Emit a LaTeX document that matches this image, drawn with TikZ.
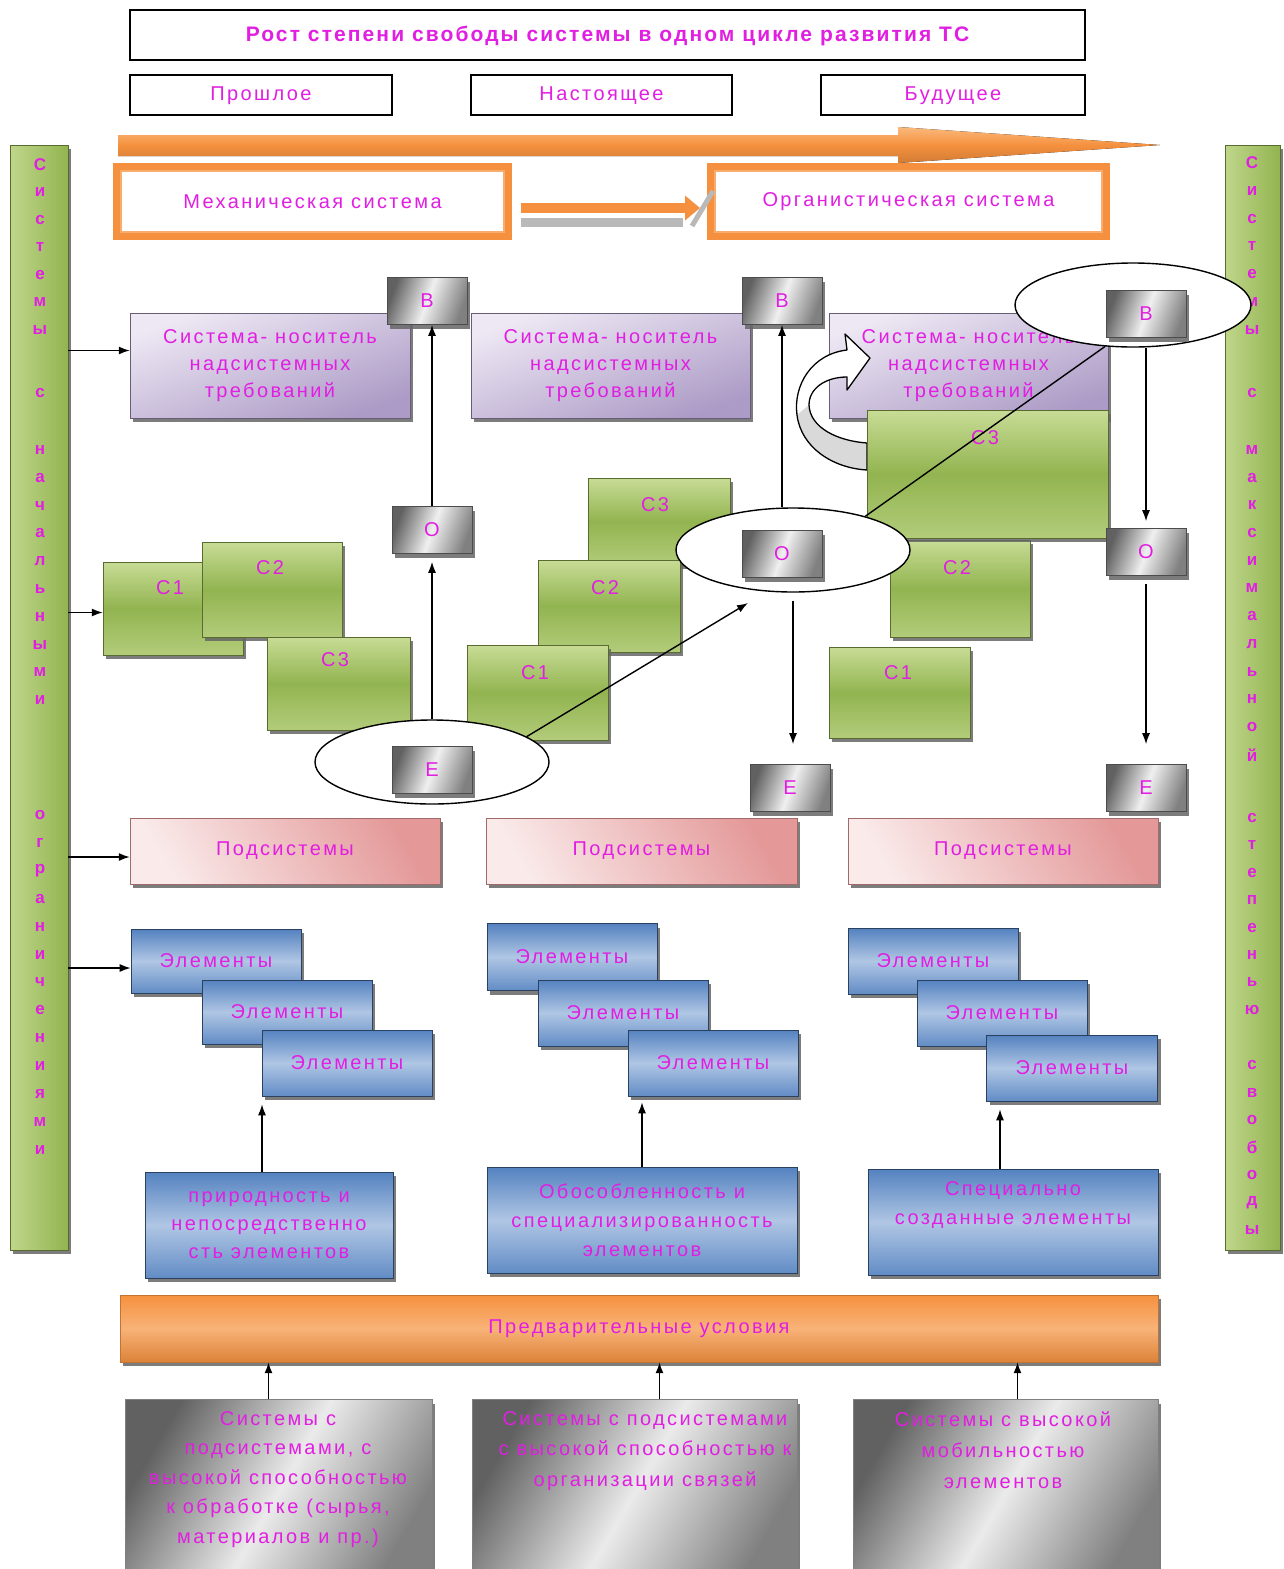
\documentclass[tikz,border=0pt]{standalone}
\usepackage{fontspec}
\setmainfont{Liberation Sans}
\newfontfamily\lsfont[LetterSpace=12]{Liberation Sans}
\newfontfamily\ttlfont[LetterSpace=10]{Liberation Sans}
\usetikzlibrary{arrows.meta,shapes.geometric,shadows}

\definecolor{mag}{RGB}{225,30,225}
\definecolor{grA}{RGB}{200,220,150}
\definecolor{grB}{RGB}{146,180,80}
\definecolor{purA}{RGB}{238,232,244}
\definecolor{purB}{RGB}{172,155,198}
\definecolor{pinkA}{RGB}{250,234,234}
\definecolor{pinkB}{RGB}{228,152,152}
\definecolor{bluA}{RGB}{176,198,228}
\definecolor{bluB}{RGB}{84,130,192}
\definecolor{orA}{RGB}{245,145,62}
\definecolor{orB}{RGB}{250,185,125}

\begin{document}
\begin{tikzpicture}[x=1pt,y=-1pt,
  txt/.style={text=mag,font=\lsfont\fontsize{20}{27}\selectfont,align=center,inner sep=0pt},
  hdr/.style={draw=black,line width=1.8pt,fill=white,txt,text depth=3pt},
  shad/.style={drop shadow={shadow xshift=3pt,shadow yshift=-4pt,fill=black!60,opacity=.85}},
  grbox/.style={shad,draw=grB!60!black,line width=.5pt,top color=grA,bottom color=grA!60!grB,middle color=grB,inner sep=0pt},
  sidebar/.style={shad,draw=grB!60!black,line width=.5pt,left color=grA!85!grB,right color=grB,inner sep=0pt},
  purbox/.style={shad,draw=purB!60!black,line width=.4pt,top color=purA,bottom color=purB,shading angle=20,txt,minimum width=280,minimum height=105},
  pinkbox/.style={shad,draw=pinkB!70!black,line width=.4pt,left color=pinkA,right color=pinkB,shading angle=120,txt,minimum height=66},
  blubox/.style={shad,draw=bluB!50!black,line width=.6pt,top color=bluB,bottom color=bluB!85!bluA,middle color=bluA,txt},
  smallbox/.style={shad,draw=black!70,line width=.6pt,left color=black!62,right color=black!50,middle color=white!94!black,shading angle=70,txt,minimum width=80,minimum height=47},
  graybox/.style={shad,draw=black!50,line width=.4pt,left color=black!62,right color=black!50,middle color=black!8,shading angle=60,inner sep=0pt},
  frameO/.style={draw=orA,line width=7pt,fill=white,txt,minimum width=392,minimum height=70},
  ell/.style={ellipse,draw=black,line width=1.4pt,fill=white,minimum width=234,minimum height=84,inner sep=0pt},
  conn/.style={draw=black,line width=1.4pt,-{Latex[length=11pt,width=8pt]}},
  plain/.style={draw=black,line width=1.4pt},
  barch/.style={text=mag,font=\fontsize{17}{17}\selectfont\bfseries,inner sep=0pt}
]
\useasboundingbox (0,0) rectangle (1283,1569);
\fill[white] (0,0) rectangle (1283,1569);

% ---- side bars with vertical lettering
\node[sidebar,minimum width=58,minimum height=1105] (lbar) at (39,697.5) {};
\node[sidebar,minimum width=55,minimum height=1105] (rbar) at (1252.5,697.5) {};
\foreach \c [count=\k from 0] in {С,и,с,т,е,м,ы}
  \node[barch] (la\k) at (40,{165+27.5*\k}) {\c};
\node[barch] (lb0) at (40,393) {с};
\foreach \c [count=\k from 0] in {н,а,ч,а,л,ь,н,ы,м,и}
  \node[barch] (lc\k) at (40,{450+27.8*\k}) {\c};
\foreach \c [count=\k from 0] in {о,г,р,а,н,и,ч,е,н,и,я,м,и}
  \node[barch] (ld\k) at (40,{815+27.9*\k}) {\c};
\foreach \c [count=\k from 0] in {С,и,с,т,е,м,ы}
  \node[barch] (ra\k) at (1252,{163+27.8*\k}) {\c};
\node[barch] (rb0) at (1252,393) {с};
\foreach \c [count=\k from 0] in {м,а,к,с,и,м,а,л,ь,н,о,й}
  \node[barch] (rc\k) at (1252,{450+27.7*\k}) {\c};
\foreach \c [count=\k from 0] in {с,т,е,п,е,н,ь,ю}
  \node[barch] (rd\k) at (1252,{818+27.4*\k}) {\c};
\foreach \c [count=\k from 0] in {с,в,о,б,о,д,ы}
  \node[barch] (re\k) at (1252,{1065+27.5*\k}) {\c};

% ---- headings
\node[hdr,minimum width=955,minimum height=50,font=\ttlfont\bfseries\fontsize{21}{24}\selectfont] (title) at (607.5,35) {Рост степени свободы системы в одном цикле развития ТС};
\node[hdr,minimum width=262,minimum height=40] (past) at (261,95) {Прошлое};
\node[hdr,minimum width=261,minimum height=40] (present) at (601.5,95) {Настоящее};
\node[hdr,minimum width=264,minimum height=40] (future) at (953,95) {Будущее};

% ---- time arrow
\fill[top color=orB,bottom color=orA!85!black,middle color=orA]
  (118,135) -- (898,135) -- (898,127) -- (1160,145) -- (898,163) -- (898,156) -- (118,156) -- cycle;

% ---- mechanical / organistic systems
\node[frameO] (mech) at (312.5,201.5) {Механическая система};
\draw[orA!75,line width=1.2pt] ([shift={(8,8)}]mech.north west) rectangle ([shift={(-8,-8)}]mech.south east);
\node[frameO,minimum width=396] (organ) at (908.5,201.5) {Органистическая система};
\draw[orA!75,line width=1.2pt] ([shift={(8,8)}]organ.north west) rectangle ([shift={(-8,-8)}]organ.south east);
\coordinate (mo1) at ([yshift=-6.5pt]mech.east);
\coordinate (mo2) at ([yshift=-6.5pt]organ.west);
\draw[gray!55,line width=9pt,shorten <=9pt,shorten >=24pt] ([yshift=-14pt]mo1) -- ([yshift=-14pt]mo2);
\draw[gray!55,line width=5pt] (692,226) -- (713,191);
\draw[orA,line width=10pt,shorten <=9pt,shorten >=7pt,-{Triangle[length=15pt,width=24pt]}] (mo1) -- (mo2);

% ---- carriers of super-system requirements
\node[purbox] (p1) at (270,365.5) {Система- носитель\\надсистемных\\требований};
\node[purbox,minimum width=279] (p2) at (610.5,365.5) {Система- носитель\\надсистемных\\требований};
\node[purbox,minimum width=279] (p3) at (968.5,365.5) {Система- носитель\\надсистемных\\требований};

% ---- curved block arrow
\def\crvpath{(847,350) .. controls (812,354) and (793,385) .. (797,415)
  .. controls (801,447) and (832,468) .. (867,470) -- (867,443)
  .. controls (838,441) and (810,428) .. (809,405)
  .. controls (809,388) and (826,377) .. (847,377) -- (847,390) -- (870,358) -- (845,334) -- cycle}
\fill[white] \crvpath;
\fill[gray!30] (797,415) .. controls (801,447) and (832,468) .. (867,470) -- (867,443)
  .. controls (838,441) and (810,428) .. (809,405) -- cycle;
\draw[black,line width=1.3pt,line join=round] \crvpath;

% ---- subsystem blocks
\node[grbox,minimum width=140,minimum height=93] (gA1) at (173,608.5) {};
\node[txt] (gA1t) at (170,588) {С1};
\node[grbox,minimum width=140,minimum height=95] (gA2) at (272,589.5) {};
\node[txt] (gA2t) at (270,568) {С2};
\node[grbox,minimum width=143,minimum height=93] (gA3) at (338.5,683.5) {};
\node[txt] (gA3t) at (335,660) {С3};

\node[grbox,minimum width=142,minimum height=87] (gB3) at (659,521.5) {};
\node[txt] (gB3t) at (655,505) {С3};
\node[grbox,minimum width=142,minimum height=92] (gB2) at (609,606) {};
\node[txt] (gB2t) at (605,588) {С2};
\node[grbox,minimum width=141,minimum height=95] (gB1) at (537.5,692.5) {};
\node[txt] (gB1t) at (535,673) {С1};

\node[grbox,minimum width=141,minimum height=91] (gC1) at (899.5,692.5) {};
\node[txt] (gC1t) at (898,673) {С1};
\node[grbox,minimum width=140,minimum height=97] (gC2) at (960,588.5) {};
\node[txt] (gC2t) at (957,568) {С2};
\node[grbox,minimum width=241,minimum height=128] (gC3) at (987.5,474) {};
\node[txt] (gC3t) at (985,438) {С3};

% ---- highlight ellipses
\node[ell] (ellE) at (432,762) {};
\node[ell] (ellO) at (793,550) {};
\node[ell,minimum width=236] (ellB) at (1133,305) {};

% ---- В / О / Е markers
\node[smallbox] (B1) at (427,301) {В};
\node[smallbox] (O1) at (432,530) {О};
\node[smallbox] (E1) at (432,770) {Е};
\node[smallbox] (B2) at (782,301) {В};
\node[smallbox] (O2) at (782,554) {О};
\node[smallbox] (E2) at (790,788) {Е};
\node[smallbox] (B3) at (1146,314) {В};
\node[smallbox] (O3) at (1146,552) {О};
\node[smallbox] (E3) at (1146,788) {Е};

% ---- connectors in the middle band
\coordinate (tipO) at (748,603);
\draw[conn,shorten >=8pt] (ellE.north -| O1.south) -- (O1.south);
\draw[conn] (O1.north) -- (B1.south -| O1.north);
\draw[conn] (ellE.15) -- (tipO);
\draw[conn] (ellO.north -| B2.south) -- (B2.south);
\draw[conn,shorten <=8pt,shorten >=20pt] (ellO.south) -- (ellO.south |- E2.north);
\draw[plain] (ellO.25) -- (ellB.236);
\draw[conn,shorten >=7pt] (ellB.south -| O3.north) -- (O3.north);
\draw[conn,shorten <=8pt,shorten >=20pt] (O3.south) -- (E3.north);

% ---- subsystems
\node[pinkbox,minimum width=310] (pk1) at (285,851) {Подсистемы};
\node[pinkbox,minimum width=311] (pk2) at (641.5,851) {Подсистемы};
\node[pinkbox,minimum width=310] (pk3) at (1003,851) {Подсистемы};

% ---- elements
\node[blubox,minimum width=170,minimum height=64] (e11) at (216,961) {Элементы};
\node[blubox,minimum width=170,minimum height=64] (e12) at (287,1012) {Элементы};
\node[blubox,minimum width=170,minimum height=66] (e13) at (347,1063) {Элементы};
\node[blubox,minimum width=170,minimum height=67] (e21) at (572,957) {Элементы};
\node[blubox,minimum width=170,minimum height=66] (e22) at (623,1013) {Элементы};
\node[blubox,minimum width=170,minimum height=66] (e23) at (713,1063) {Элементы};
\node[blubox,minimum width=170,minimum height=66] (e31) at (933,961) {Элементы};
\node[blubox,minimum width=170,minimum height=66] (e32) at (1002,1013) {Элементы};
\node[blubox,minimum width=171,minimum height=66] (e33) at (1072,1068) {Элементы};

\node[blubox,minimum width=248,minimum height=106,font=\lsfont\fontsize{20}{28}\selectfont] (bq1) at (269,1225) {природность и\\непосредственно\\сть элементов};
\node[blubox,minimum width=310,minimum height=106,font=\lsfont\fontsize{20}{29}\selectfont] (bq2) at (642,1220) {Обособленность и\\специализированность\\элементов};
\node[blubox,minimum width=290,minimum height=106,font=\lsfont\fontsize{20}{29}\selectfont] (bq3) at (1013,1222) {Специально\\созданные элементы\\\strut};

% ---- preconditions
\node[shad,draw=orA!80!black,line width=.4pt,top color=orA,bottom color=orA!90!black,middle color=orA!70!white,txt,minimum width=1038,minimum height=67] (ob) at (639,1328.5) {Предварительные условия};

\node[graybox,minimum width=307,minimum height=185] (sq1) at (278.5,1492) {};
\node[graybox,minimum width=325,minimum height=185] (sq2) at (634.5,1492) {};
\node[graybox,minimum width=305,minimum height=185] (sq3) at (1005.5,1492) {};
\node[txt,anchor=north,font=\lsfont\fontsize{20}{29.5}\selectfont] (sq1t) at (278,1411) {Системы с\\подсистемами, с\\высокой способностью\\к обработке (сырья,\\материалов и пр.)};
\node[txt,anchor=north,font=\lsfont\fontsize{20}{30.5}\selectfont] (sq2t) at (645,1411) {Системы с подсистемами\\с высокой способностью к\\организации связей};
\node[txt,anchor=north,font=\lsfont\fontsize{20}{31}\selectfont] (sq3t) at (1003,1411) {Системы с высокой\\мобильностью\\элементов};

% ---- arrows from the side bar
\coordinate (p1in) at ([yshift=15pt]p1.west);
\coordinate (gAin) at ([yshift=-4pt]gA1.west);
\coordinate (pkin) at ([yshift=-6pt]pk1.west);
\coordinate (e1in) at ([yshift=-7pt]e11.west);
\draw[conn] (lbar.east |- p1in) -- (p1in);
\draw[conn] (lbar.east |- gAin) -- (gAin);
\draw[conn] (lbar.east |- pkin) -- (pkin);
\draw[conn] (lbar.east |- e1in) -- (e1in);

% ---- arrows up to the elements
\coordinate (bq1t) at ([xshift=-7pt]bq1.north);
\coordinate (bq3t) at ([xshift=-13pt]bq3.north);
\draw[conn,shorten >=8pt] (bq1t) -- (bq1t |- e13.south);
\draw[conn,shorten >=6pt] (bq2.north) -- (bq2.north |- e23.south);
\draw[conn,shorten >=8pt] (bq3t) -- (bq3t |- e33.south);

% ---- arrows up to the preconditions
\coordinate (s1t) at ([xshift=-10pt]sq1.north);
\coordinate (s2t) at ([xshift=25pt]sq2.north);
\coordinate (s3t) at ([xshift=12pt]sq3.north);
\draw[conn] (s1t) -- (s1t |- ob.south);
\draw[conn] (s2t) -- (s2t |- ob.south);
\draw[conn] (s3t) -- (s3t |- ob.south);
\end{tikzpicture}
\end{document}
